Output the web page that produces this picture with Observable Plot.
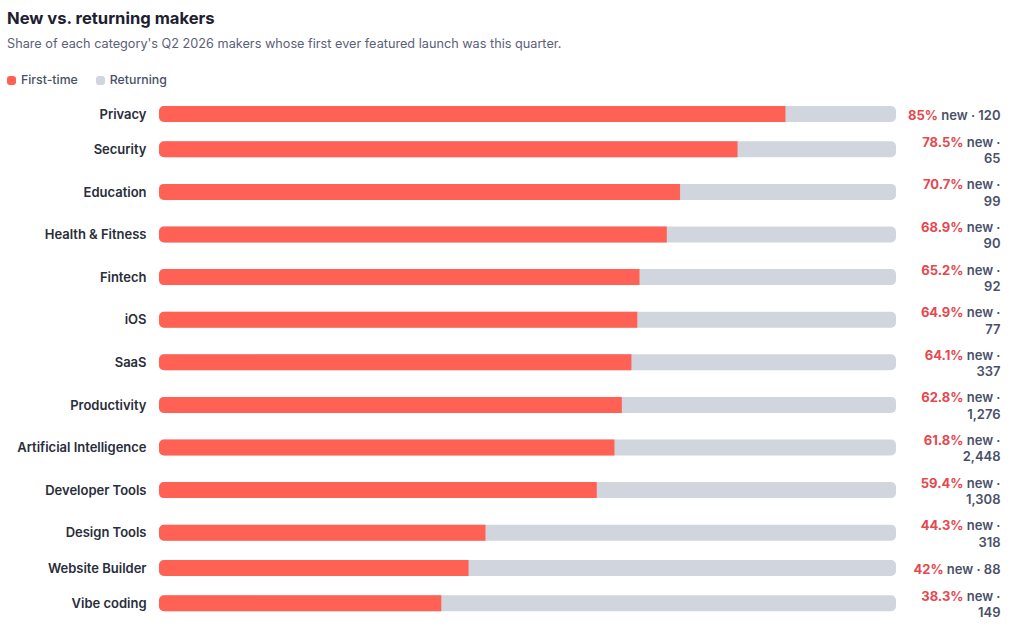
<!DOCTYPE html>
<html>
<head>
<meta charset="utf-8">
<script src="https://cdn.jsdelivr.net/npm/d3@7"></script>
<script src="https://cdn.jsdelivr.net/npm/@observablehq/plot@0.6"></script>
<style>
  html, body { margin: 0; padding: 0; background: #fff; }
  body { width: 1011px; font-family: Inter, "Noto Sans", sans-serif; }
  .title { padding: 8px 0 0 7px; line-height: 20px; font-size: 16.6px; font-weight: 700; color: #1d2030; }
  .subtitle { margin-top: 7px; padding-left: 7px; line-height: 18px; font-size: 12.7px; color: #5b6078; }
  .legend { margin-top: 19px; padding-left: 7px; line-height: 16px; font-size: 12.3px; font-weight: 500; color: #4a5068; display: flex; gap: 18px; }
  .legend span.item { display: inline-flex; align-items: center; }
  .legend i { display: inline-block; width: 9px; height: 9px; border-radius: 3px; margin-right: 5px; }
  #chart { margin-top: 7px; }
  #chart svg { display: block; }
</style>
</head>
<body>
<div class="title">New vs. returning makers</div>
<div class="subtitle">Share of each category's Q2 2026 makers whose first ever featured launch was this quarter.</div>
<div class="legend">
  <span class="item"><i style="background:#ff6154"></i>First-time</span>
  <span class="item"><i style="background:#d1d5de"></i>Returning</span>
</div>
<div id="chart"></div>
<script>
const categories = ["Privacy", "Security", "Education", "Health & Fitness", "Fintech", "iOS", "SaaS", "Productivity", "Artificial Intelligence", "Developer Tools", "Design Tools", "Website Builder", "Vibe coding"];
const sharesNew = [85, 78.5, 70.7, 68.9, 65.2, 64.9, 64.1, 62.8, 61.8, 59.4, 44.3, 42, 38.3];
const makers = [120, 65, 99, 90, 92, 77, 337, 1276, 2448, 1308, 318, 88, 149];

const RED = "#ff6154", GREY = "#d1d5de";
const ROW1 = 28, ROW2 = 42.6, BAR = 16;

let acc = 0;
const data = categories.map((cat, i) => {
  const head = `${sharesNew[i]}% new ·`;
  const tail = makers[i].toLocaleString("en-US");
  const full = `${head} ${tail}`;
  const wrap = full.length > 13;
  const h = wrap ? ROW2 : ROW1;
  const y = acc + h / 2;
  acc += h;
  return { cat, share: sharesNew[i], label: wrap ? `${head}\n${tail}` : full, y };
});
const total = acc;
const mt = 5, mb = 10;

const chart = Plot.plot({
  width: 1011,
  height: total + mt + mb,
  marginLeft: 159,
  marginRight: 115,
  marginTop: mt,
  marginBottom: mb,
  x: { domain: [0, 100], axis: null },
  y: { domain: [0, total], range: [mt, mt + total], axis: null },
  style: { fontFamily: "Inter, 'Noto Sans', sans-serif", background: "transparent", overflow: "visible" },
  marks: [
    Plot.rect(data, { x1: 0, x2: 100, y1: d => d.y - BAR / 2, y2: d => d.y + BAR / 2, fill: GREY, rx: 5 }),
    Plot.rect(data, { x1: 0, x2: "share", y1: d => d.y - BAR / 2, y2: d => d.y + BAR / 2, fill: RED, rx1: 5 }),
    Plot.text(data, { x: 0, y: "y", text: "cat", textAnchor: "end", dx: -13, fontSize: 13, fontWeight: 600, fill: "#2a2d3a" }),
    Plot.text(data, { x: 100, y: "y", text: "label", textAnchor: "end", dx: 104, fontSize: 13, fontWeight: 600, fill: "#4a5068", lineHeight: 1.25 })
  ]
});
document.getElementById("chart").appendChild(chart);

// colour the percentage part of each right-hand label
d3.select(chart).selectAll("text").each(function () {
  const t = d3.select(this);
  const tspans = t.selectAll("tspan");
  const target = tspans.empty() ? t : d3.select(tspans.node());
  const s = target.text();
  const m = s.match(/^(\S+%)( new.*)$/);
  if (!m) return;
  target.text(null);
  target.append("tspan").attr("fill", "#e5484d").attr("font-weight", 700).text(m[1]);
  target.append("tspan").text(m[2]);
});
</script>
</body>
</html>
